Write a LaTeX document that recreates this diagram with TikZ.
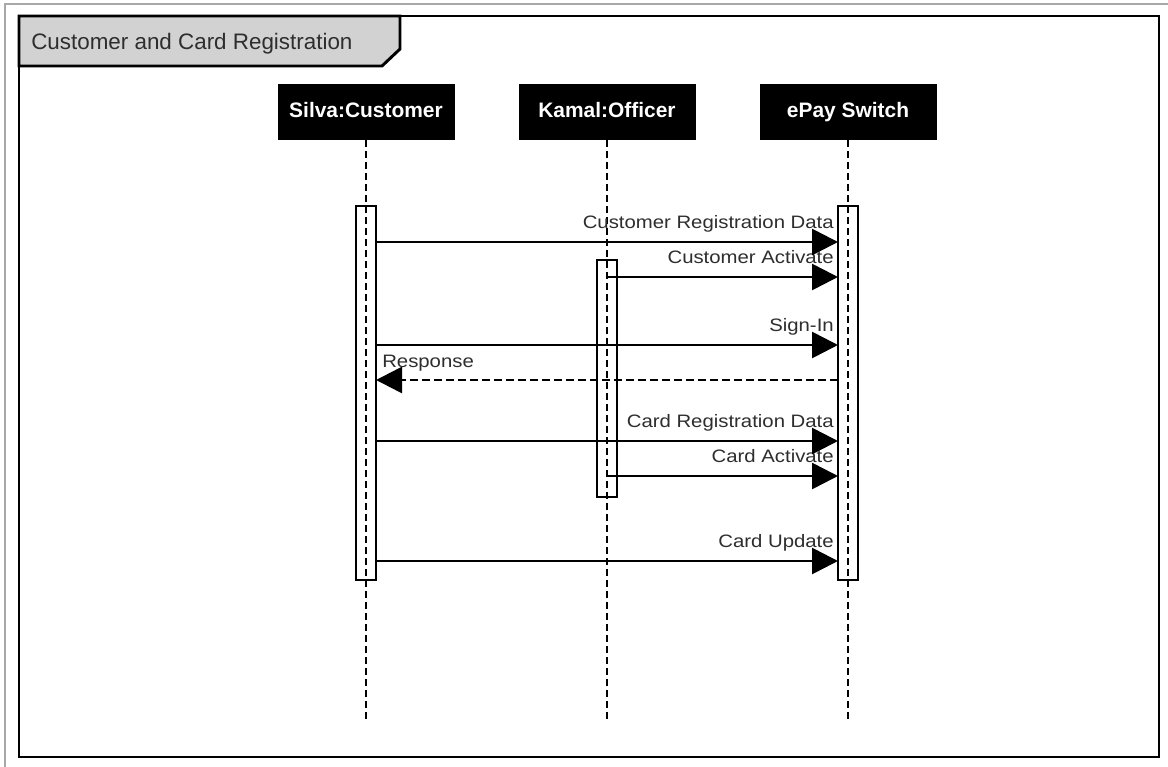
\documentclass[tikz,border=0pt]{standalone}
\usepackage{fontspec}
\setmainfont{Liberation Sans}
\newfontfamily\lblfont[FakeStretch=1.13]{Liberation Sans}
\usetikzlibrary{arrows.meta}
\definecolor{tabgray}{HTML}{D2D2D2}
\definecolor{txtgray}{HTML}{2E2E2E}
\definecolor{edgegray}{HTML}{A8A8A8}
\begin{document}
\begin{tikzpicture}[x=0.75pt,y=-0.75pt,
  head/.style={fill=black, text=white, font=\fontsize{15.7}{18}\selectfont\bfseries,
    minimum width=132.75pt, minimum height=42pt, inner sep=0pt, outer sep=0pt,
    text height=11.3pt, text depth=3.3pt},
  act/.style={draw=black, fill=white, line width=1.9pt, minimum width=15pt,
    inner sep=0pt, outer sep=0pt},
  life/.style={line width=1.9pt, dash pattern=on 5.25pt off 3pt},
  msg/.style={line width=2pt, -{Triangle[length=19.5pt,width=19.5pt]}},
  reply/.style={msg, dash pattern=on 6pt off 3pt},
  lbl/.style={font=\lblfont\fontsize{13.5}{16}\selectfont, text=txtgray, inner sep=0pt},
]
% canvas
\useasboundingbox (0,0) rectangle (1168,767);
\fill[white] (0,0) rectangle (1168,767);
\draw[edgegray, line width=0.9pt] (5,767) -- (5,4) -- (1168,4);

% frame and its title tab
\draw[line width=2.2pt] (19,16) rectangle (1159,757);
\draw[line width=2.2pt, fill=tabgray] (19,16) -- (400,16) -- (400,49) -- (382,66) -- (19,66) -- cycle;
\node[anchor=base west, inner sep=0pt, text=txtgray, font=\fontsize{16.8}{20}\selectfont]
  (title) at (31,50) {Customer and Card Registration};

% participants
\node[head] (silva) at (366,112) {Silva:Customer};
\node[head] (kamal) at (607,112) {Kamal:Officer};
\node[head] (epay)  at (848,112) {ePay Switch};

% activation bars
\node[act, minimum height=280.5pt]  (sact) at (366,393)   {};
\node[act, minimum height=177.75pt] (kact) at (607,378.5) {};
\node[act, minimum height=280.5pt]  (eact) at (848,393)   {};

% lifelines
\coordinate (send) at (366,722);
\coordinate (kend) at (607,722);
\coordinate (eend) at (848,722);
\draw[life] (silva.south) -- (send);
\draw[life] (kamal.south) -- (kend);
\draw[life] (epay.south) -- (eend);

% message rows
\coordinate (r1) at (0,242);
\coordinate (r2) at (0,277);
\coordinate (r3) at (0,345);
\coordinate (r4) at (0,380);
\coordinate (r5) at (0,441);
\coordinate (r6) at (0,476);
\coordinate (r7) at (0,561);

% message labels
\node[lbl, anchor=base east] (l1) at (834,228) {Customer Registration Data};
\node[lbl, anchor=base east] (l2) at (834,263) {Customer Activate};
\node[lbl, anchor=base east] (l3) at (834,331) {Sign-In};
\node[lbl, anchor=base west] (l4) at (382,367) {Response};
\node[lbl, anchor=base east] (l5) at (834,427) {Card Registration Data};
\node[lbl, anchor=base east] (l6) at (834,462) {Card Activate};
\node[lbl, anchor=base east] (l7) at (834,547) {Card Update};

% messages
\draw[msg]   (sact.east |- r1) -- (eact.west |- r1);
\draw[msg]   (kact.center |- r2) -- (eact.west |- r2);
\draw[msg]   (sact.east |- r3) -- (eact.west |- r3);
\draw[reply] (eact.west |- r4) -- (sact.east |- r4);
\draw[msg]   (sact.east |- r5) -- (eact.west |- r5);
\draw[msg]   (kact.center |- r6) -- (eact.west |- r6);
\draw[msg]   (sact.east |- r7) -- (eact.west |- r7);
\end{tikzpicture}
\end{document}
